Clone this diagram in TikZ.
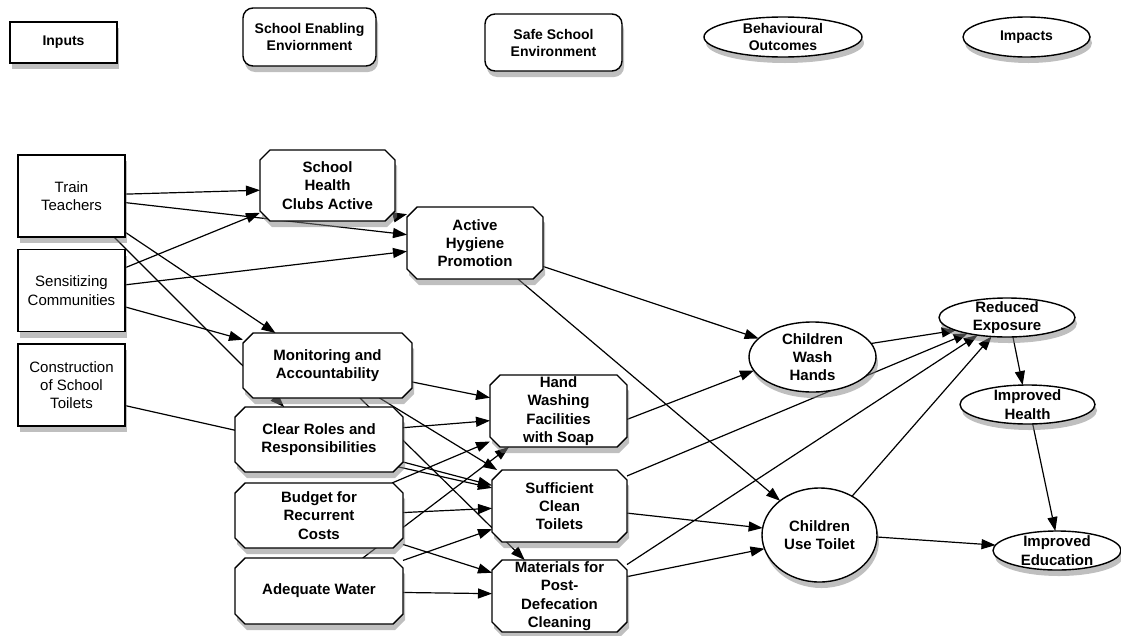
\documentclass[tikz,border=0pt]{standalone}
\usepackage{fontspec}
\setmainfont{Liberation Sans}
\usetikzlibrary{shapes.geometric,shadows,arrows.meta}
\pgfdeclarelayer{bg}
\pgfsetlayers{bg,main}
\newcommand\octcut{10pt}
\makeatletter
\pgfdeclareshape{octbox}{%
  \inheritsavedanchors[from=rectangle]%
  \inheritanchorborder[from=rectangle]%
  \inheritanchor[from=rectangle]{center}%
  \inheritanchor[from=rectangle]{north}%
  \inheritanchor[from=rectangle]{south}%
  \inheritanchor[from=rectangle]{east}%
  \inheritanchor[from=rectangle]{west}%
  \backgroundpath{%
    \southwest \edef\octxa{\the\pgf@x}\edef\octya{\the\pgf@y}%
    \northeast \edef\octxb{\the\pgf@x}\edef\octyb{\the\pgf@y}%
    \pgfpathmoveto{\pgfpoint{\octxa+\octcut}{\octya}}%
    \pgfpathlineto{\pgfpoint{\octxb-\octcut}{\octya}}%
    \pgfpathlineto{\pgfpoint{\octxb}{\octya+\octcut}}%
    \pgfpathlineto{\pgfpoint{\octxb}{\octyb-\octcut}}%
    \pgfpathlineto{\pgfpoint{\octxb-\octcut}{\octyb}}%
    \pgfpathlineto{\pgfpoint{\octxa+\octcut}{\octyb}}%
    \pgfpathlineto{\pgfpoint{\octxa}{\octyb-\octcut}}%
    \pgfpathlineto{\pgfpoint{\octxa}{\octya+\octcut}}%
    \pgfpathclose
  }%
}
\makeatother
\tikzset{
  base/.style={draw, line width=1.4pt, fill=white, inner sep=0pt, outer sep=0pt, align=center,
    drop shadow={shadow xshift=2pt, shadow yshift=-6pt, opacity=0.5}},
  inbox/.style={base, rectangle, minimum width=107pt, minimum height=82pt,
    font=\fontsize{15}{18.3}\selectfont},
  octa/.style={base, octbox, font=\bfseries\fontsize{15}{18.3}\selectfont},
  oval/.style={base, ellipse, inner sep=-4pt, font=\bfseries\fontsize{15}{18.3}\selectfont},
  head/.style={base, font=\bfseries\fontsize{14}{17}\selectfont},
  link/.style={line width=1.2pt, -{Triangle[length=14pt,width=10pt]}}
}
\begin{document}
\begin{tikzpicture}[x=1pt,y=-1pt]
\useasboundingbox (0,0) rectangle (1121,635);
% column heads
\node[head, rectangle, minimum width=107pt, minimum height=41pt] (hin) at (63.5,42.5) {Inputs};
\node[head, rectangle, rounded corners=10pt, minimum width=133pt, minimum height=58pt] (hen) at (309.5,37) {School Enabling\\Enviornment};
\node[head, rectangle, rounded corners=10pt, minimum width=137pt, minimum height=57pt] (hsa) at (553.5,42.5) {Safe School\\Environment};
\node[head, ellipse, inner sep=-4pt, minimum width=158pt, minimum height=40pt] (hbo) at (783,37) {Behavioural\\Outcomes};
\node[head, ellipse, inner sep=-4pt, minimum width=127pt, minimum height=40pt] (him) at (1026.5,37) {Impacts};
% inputs
\node[inbox] (tt) at (71.5,196) {Train\\Teachers};
\node[inbox] (sc) at (71.5,290.5) {Sensitizing\\Communities};
\node[inbox] (ct) at (71.5,385) {Construction\\of School\\Toilets};
% enabling environment
\node[octa, minimum width=135pt, minimum height=71pt] (shc) at (327.5,185.5) {School\\Health\\Clubs Active};
\node[octa, minimum width=136pt, minimum height=72pt] (ahp) at (475,243) {Active\\Hygiene\\Promotion};
\node[octa, minimum width=169pt, minimum height=65pt] (mon) at (327.5,365.5) {Monitoring and\\Accountability};
\node[octa, minimum width=168pt, minimum height=65pt] (crr) at (319,439.5) {Clear Roles and\\Responsibilities};
\node[octa, minimum width=168pt, minimum height=65pt] (bcr) at (319,515.5) {Budget for\\Recurrent\\Costs};
\node[octa, minimum width=168pt, minimum height=66pt] (awt) at (319,591) {Adequate Water};
% safe school environment
\node[octa, minimum width=137pt, minimum height=72pt] (hwf) at (558.5,411) {Hand\\Washing\\Facilities\\with Soap};
\node[octa, minimum width=135pt, minimum height=72pt] (sct) at (559.5,506) {Sufficient\\Clean\\Toilets};
\node[octa, minimum width=135pt, minimum height=72pt] (mpd) at (559.5,596) {Materials for\\Post-\\Defecation\\Cleaning};
% outcomes and impacts
\node[oval, minimum width=127pt, minimum height=70pt] (cwh) at (812.5,357) {Children\\Wash\\Hands};
\node[oval, minimum width=115pt, minimum height=94pt] (cut) at (819.5,535) {Children\\Use Toilet};
\node[oval, minimum width=136pt, minimum height=39pt] (rex) at (1007,317.5) {Reduced\\Exposure};
\node[oval, minimum width=135pt, minimum height=39pt] (ihe) at (1027.5,404.5) {Improved\\Health};
\node[oval, minimum width=128pt, minimum height=39pt] (ied) at (1057,550.5) {Improved\\Education};
\begin{pgfonlayer}{bg}
\draw[link] (tt.2) -- (shc.184);
\draw[link] (tt.-7) -- (ahp.173);
\draw[link] (sc.23) -- (shc.202);
\draw[link] (sc.6) -- (ahp.187);
\draw[link] (tt.-34) -- (mon.148);
\draw[link] (tt.-44) -- (crr.137);
\draw[link] (sc.-17) -- (mon.163);
\draw[link] (ct.-21) -- (sct.165);
\draw[link] (crr.-15) -- (sct.163);
\draw[link] (crr.8) -- (hwf.188);
\draw[link] (mon.-11) -- (hwf.169);
\draw[link] (mon.-32) -- (sct.150);
\draw[link] (mon.-45) -- (mpd.134);
\draw[link] (shc.-25) -- (ahp.157);
\draw[link] (ahp.-19) -- (cwh.161);
\draw[link] (ahp.-40) -- (cut.139);
\draw[link] (bcr.24) -- (hwf.204);
\draw[link] (bcr.2) -- (sct.182);
\draw[link] (bcr.-19) -- (mpd.161);
\draw[link] (awt.37) -- (hwf.216);
\draw[link] (awt.20) -- (sct.199);
\draw[link] (awt.-1) -- (mpd.178);
\draw[link] (hwf.-7) -- (cwh.193);
\draw[link] (sct.24) -- (rex.202);
\draw[link] (sct.-6) -- (cut.173);
\draw[link] (mpd.16) -- (cut.194);
\draw[link] (mpd.25) -- (rex.211);
\draw[link] (cwh.13) -- (rex.194);
\draw[link] (cut.50) -- (rex.231);
\draw[link] (cut.-2) -- (ied.175);
\draw[link] (rex.-73) -- (ihe.104);
\draw[link] (ihe.-75) -- (ied.95);
\end{pgfonlayer}
\end{tikzpicture}
\end{document}
